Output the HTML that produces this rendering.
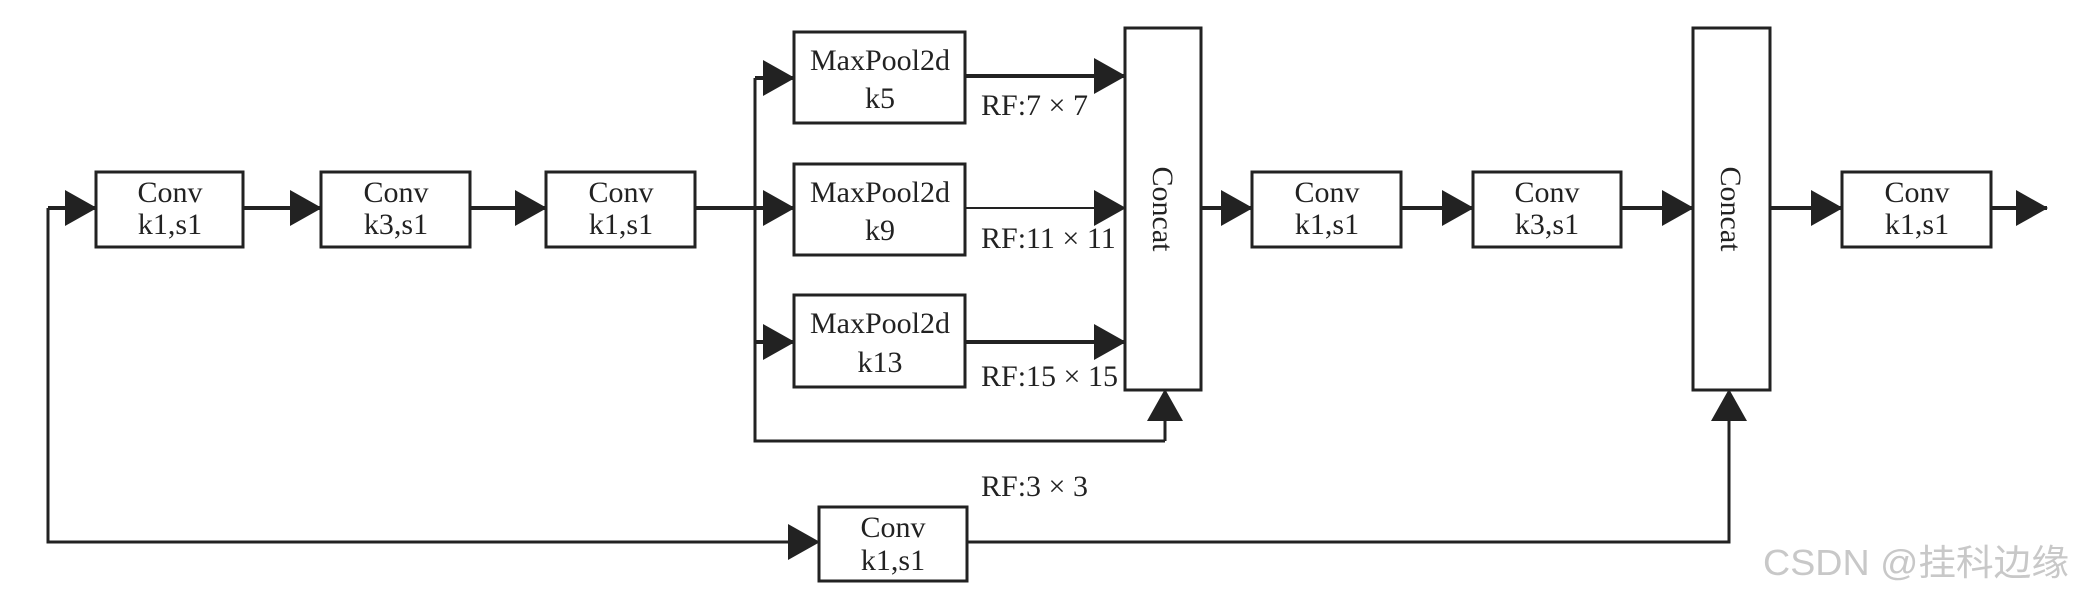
<!DOCTYPE html>
<html><head><meta charset="utf-8"><style>
html,body{margin:0;padding:0;background:#fff;}
svg{display:block;}
text{font-family:"Liberation Serif",serif;font-size:30px;fill:#222;}
</style></head><body>
<svg width="2077" height="595" viewBox="0 0 2077 595" xmlns="http://www.w3.org/2000/svg">
<defs>
<marker id="a" markerUnits="userSpaceOnUse" markerWidth="32" markerHeight="36" refX="31" refY="18" orient="auto">
<path d="M0,0 L32,18 L0,36 Z" fill="#222"/>
</marker>
</defs>
<g stroke="#222" fill="none" stroke-width="4">
<rect x="96" y="172" width="147" height="75" stroke-width="3"/>
<rect x="321" y="172" width="149" height="75" stroke-width="3"/>
<rect x="546" y="172" width="149" height="75" stroke-width="3"/>
<rect x="794" y="32" width="171" height="91" stroke-width="3"/>
<rect x="794" y="164" width="171" height="91" stroke-width="3"/>
<rect x="794" y="295" width="171" height="92" stroke-width="3"/>
<rect x="1125" y="28" width="76" height="362" stroke-width="3"/>
<rect x="1252" y="172" width="149" height="75" stroke-width="3"/>
<rect x="1473" y="172" width="148" height="75" stroke-width="3"/>
<rect x="1693" y="28" width="77" height="362" stroke-width="3"/>
<rect x="1842" y="172" width="149" height="75" stroke-width="3"/>
<rect x="819" y="507" width="148" height="74" stroke-width="3"/>
<line x1="48" y1="208" x2="96" y2="208" marker-end="url(#a)"/>
<line x1="243" y1="208" x2="321" y2="208" marker-end="url(#a)"/>
<line x1="470" y1="208" x2="546" y2="208" marker-end="url(#a)"/>
<line x1="695" y1="208" x2="794" y2="208" marker-end="url(#a)"/>
<polyline points="755,78 755,441 1165,441" stroke-width="3"/>
<line x1="755" y1="78" x2="794" y2="78" marker-end="url(#a)"/>
<line x1="755" y1="342" x2="794" y2="342" marker-end="url(#a)"/>
<line x1="965" y1="76" x2="1125" y2="76" marker-end="url(#a)"/>
<line x1="965" y1="208" x2="1125" y2="208" marker-end="url(#a)" stroke-width="2"/>
<line x1="965" y1="342" x2="1125" y2="342" marker-end="url(#a)"/>
<line x1="1165" y1="441" x2="1165" y2="390" marker-end="url(#a)" stroke-width="3"/>
<line x1="1201" y1="208" x2="1252" y2="208" marker-end="url(#a)"/>
<line x1="1401" y1="208" x2="1473" y2="208" marker-end="url(#a)"/>
<line x1="1621" y1="208" x2="1693" y2="208" marker-end="url(#a)"/>
<line x1="1770" y1="208" x2="1842" y2="208" marker-end="url(#a)"/>
<line x1="1991" y1="208" x2="2047" y2="208" marker-end="url(#a)"/>
<polyline points="48,208 48,542 819,542" stroke-width="3"/>
<line x1="760" y1="542" x2="819" y2="542" marker-end="url(#a)" stroke-width="3"/>
<polyline points="967,542 1729,542 1729,390" stroke-width="3"/>
<line x1="1729" y1="430" x2="1729" y2="390" marker-end="url(#a)" stroke-width="3"/>
</g>
<g text-anchor="middle">
<text x="170" y="202">Conv</text><text x="170" y="234">k1,s1</text>
<text x="396" y="202">Conv</text><text x="396" y="234">k3,s1</text>
<text x="621" y="202">Conv</text><text x="621" y="234">k1,s1</text>
<text x="880" y="70">MaxPool2d</text><text x="880" y="108">k5</text>
<text x="880" y="202">MaxPool2d</text><text x="880" y="240">k9</text>
<text x="880" y="333">MaxPool2d</text><text x="880" y="372">k13</text>
<text x="1327" y="202">Conv</text><text x="1327" y="234">k1,s1</text>
<text x="1547" y="202">Conv</text><text x="1547" y="234">k3,s1</text>
<text x="1917" y="202">Conv</text><text x="1917" y="234">k1,s1</text>
<text x="893" y="537">Conv</text><text x="893" y="570">k1,s1</text>
<text transform="translate(1153,209) rotate(90)">Concat</text>
<text transform="translate(1721,209) rotate(90)">Concat</text>
</g>
<text x="981" y="115">RF:7 × 7</text>
<text x="981" y="248">RF:11 × 11</text>
<text x="981" y="386">RF:15 × 15</text>
<text x="981" y="496">RF:3 × 3</text>
<text x="1763" y="575" textLength="306" lengthAdjust="spacingAndGlyphs" style="font-family:'Liberation Sans','Noto Sans CJK SC',sans-serif;font-size:36px;fill:#c8c8c8;">CSDN @挂科边缘</text>
</svg>
</body></html>
